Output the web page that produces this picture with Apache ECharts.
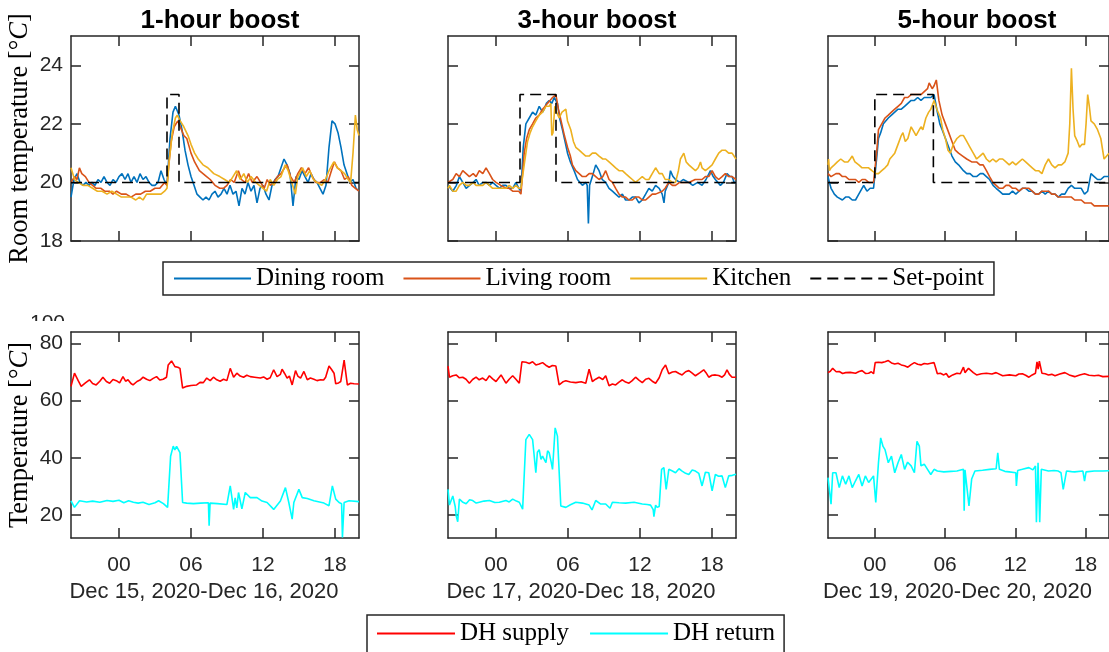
<!DOCTYPE html>
<html>
<head>
<meta charset="utf-8">
<title>Temperature boost</title>
<script src="https://cdn.jsdelivr.net/npm/echarts@6/dist/echarts.min.js"></script>
<style>html,body{margin:0;padding:0;background:#fff}#chart{width:1109px;height:652px}</style>
</head>
<body>
<div id="chart"></div>
<script>
// hours relative to midnight, -4 .. 20
var boostTitles = ['1-hour boost', '3-hour boost', '5-hour boost'];
var dateLabels = ['Dec 15, 2020-Dec 16, 2020', 'Dec 17, 2020-Dec 18, 2020', 'Dec 19, 2020-Dec 20, 2020'];
var hourTicks = [0, 6, 12, 18];
var roomTicks = [18, 20, 22, 24];
var dhTicks = [20, 40, 60, 80];

// set-points
var setpoint1h = [[-4, 20], [4, 20], [4, 23], [5, 23], [5, 20], [20, 20]];
var setpoint3h = [[-4, 20], [2, 20], [2, 23], [5, 23], [5, 20], [20, 20]];
var setpoint5h = [[-4, 20], [0, 20], [0, 23], [5, 23], [5, 20], [20, 20]];

// 1-hour boost
var dining1h = [[-4,19.5],[-3.75,20.1],[-3.5,20.3],[-3.25,20.0],[-3,19.9],[-2.75,20.0],[-2.5,19.9],[-2.25,20.0],[-2,19.9],[-1.75,20.1],[-1.5,20.0],[-1.25,20.2],[-1,20.0],[-0.75,19.9],[-0.5,20.1],[-0.25,20.0],[0,20.2],[0.25,20.3],[0.5,20.1],[0.75,20.3],[1,20.0],[1.25,20.2],[1.5,20.0],[1.75,20.3],[2,20.1],[2.25,20.2],[2.5,20.0],[2.75,19.9],[3,19.9],[3.25,20.0],[3.5,20.4],[3.75,20.1],[4,19.9],[4.25,21.5],[4.5,22.4],[4.7,22.6],[5,22.3],[5.25,21.8],[5.5,21.1],[5.75,20.6],[6,20.2],[6.25,19.9],[6.5,19.6],[6.75,19.5],[7,19.4],[7.25,19.5],[7.5,19.4],[7.75,19.6],[8,19.7],[8.25,19.5],[8.5,19.6],[8.75,19.8],[9,19.6],[9.25,19.9],[9.5,19.6],[9.75,19.7],[10,19.2],[10.25,19.8],[10.5,19.6],[10.75,20.0],[11,19.7],[11.25,19.9],[11.5,19.3],[11.75,19.8],[12,19.9],[12.25,19.6],[12.5,19.4],[12.75,19.9],[13,20.1],[13.25,20.2],[13.5,20.5],[13.75,20.8],[14,20.6],[14.25,20.3],[14.5,19.2],[14.75,20.2],[15,20.1],[15.25,20.4],[15.5,20.2],[15.75,20.0],[16,20.3],[16.25,20.1],[16.5,20.0],[16.75,19.8],[17,19.6],[17.25,19.9],[17.5,21.2],[17.75,22.1],[18,22.0],[18.25,21.7],[18.5,21.2],[18.75,20.6],[19,20.3],[19.25,20.0],[19.5,20.1],[19.75,19.8],[20,19.7]];
var living1h = [[-4,20.0],[-3.7,20.2],[-3.5,20.1],[-3.3,20.5],[-3.1,20.3],[-2.8,20.2],[-2.5,20.0],[-2.2,19.9],[-1.9,19.8],[-1.5,19.8],[-1.2,19.7],[-0.8,19.7],[-0.5,19.6],[-0.2,19.7],[0.2,19.6],[0.6,19.6],[1.0,19.5],[1.4,19.6],[1.8,19.6],[2.2,19.7],[2.6,19.7],[3.0,19.8],[3.4,19.8],[3.8,20.0],[4.0,19.9],[4.15,20.6],[4.35,21.4],[4.6,21.9],[4.9,22.1],[5.1,21.9],[5.4,21.6],[5.65,21.5],[6.0,21.0],[6.3,20.7],[6.7,20.4],[7.0,20.3],[7.3,20.2],[7.6,20.1],[8.0,19.9],[8.4,19.8],[8.7,19.8],[9.0,19.9],[9.3,20.1],[9.6,20.0],[9.95,20.4],[10.2,20.1],[10.5,20.0],[10.8,20.3],[11.1,20.0],[11.5,20.2],[11.8,20.0],[12.1,19.8],[12.35,20.1],[12.6,19.9],[12.9,20.0],[13.2,20.2],[13.5,20.3],[13.8,20.5],[14.0,20.6],[14.3,20.2],[14.6,20.0],[14.9,20.3],[15.2,20.5],[15.5,20.3],[15.8,20.5],[16.1,20.2],[16.4,20.0],[16.8,20.0],[17.1,20.1],[17.4,20.0],[17.7,20.4],[17.95,20.7],[18.2,20.5],[18.5,20.4],[18.8,20.1],[19.1,20.2],[19.4,19.9],[19.7,19.8],[20,19.7]];
var kitchen1h = [[-4,20.5],[-3.85,20.3],[-3.7,20.1],[-3.4,20.0],[-3.0,19.9],[-2.6,19.9],[-2.2,19.8],[-1.8,19.7],[-1.4,19.7],[-1.0,19.6],[-0.6,19.7],[-0.2,19.6],[0.2,19.5],[0.6,19.5],[1.0,19.5],[1.4,19.4],[1.7,19.5],[2.0,19.4],[2.3,19.6],[2.7,19.6],[3.1,19.6],[3.5,19.6],[3.8,19.7],[4.0,19.8],[4.2,20.8],[4.45,21.7],[4.7,22.2],[4.85,22.3],[5.1,22.1],[5.4,21.9],[5.75,21.6],[6.0,21.3],[6.3,21.0],[6.6,20.8],[7.0,20.6],[7.4,20.5],[7.9,20.3],[8.4,20.2],[8.8,20.1],[9.2,20.0],[9.5,20.2],[9.8,20.4],[10.1,20.1],[10.4,20.3],[10.7,20.0],[11.0,20.2],[11.4,20.0],[11.7,19.9],[12.0,19.8],[12.3,19.7],[12.6,20.1],[12.9,19.9],[13.2,20.1],[13.5,20.2],[13.85,20.6],[14.1,20.4],[14.4,20.0],[14.7,19.6],[14.9,20.2],[15.3,20.5],[15.6,20.2],[15.9,20.4],[16.2,20.1],[16.5,20.0],[16.9,19.9],[17.2,20.1],[17.5,20.4],[17.9,20.7],[18.2,20.5],[18.5,20.4],[18.8,20.3],[19.1,20.1],[19.3,20.0],[19.5,21.0],[19.7,22.3],[19.85,21.8],[20,21.6]];

// 3-hour boost
var dining3h = [[-4,19.9],[-3.88,19.9],[-3.6,19.7],[-3.3,19.9],[-3.05,20.2],[-2.77,20.0],[-2.49,19.8],[-2.2,19.9],[-1.9,20.0],[-1.66,20.1],[-1.4,19.9],[-1.1,20.0],[-0.83,20.0],[-0.55,19.9],[-0.28,20.0],[0,19.9],[0.3,19.8],[0.55,19.9],[0.83,19.9],[1.1,19.8],[1.39,19.8],[1.66,20.0],[1.9,19.8],[2.08,19.7],[2.27,21.2],[2.49,22.0],[2.77,22.2],[3.05,22.4],[3.32,22.3],[3.6,22.6],[3.88,22.4],[4.02,22.5],[4.2,22.7],[4.43,22.8],[4.65,22.7],[4.85,22.9],[5.0,22.9],[5.12,22.7],[5.3,22.2],[5.54,21.8],[5.75,21.4],[5.96,21.0],[6.2,20.7],[6.51,20.4],[6.79,20.1],[7.0,20.0],[7.2,19.9],[7.48,20.0],[7.6,19.9],[7.7,18.6],[7.8,19.9],[7.89,19.9],[8.1,20.3],[8.31,20.6],[8.59,20.4],[8.85,20.1],[9.14,20.0],[9.42,19.8],[9.7,19.7],[9.97,19.6],[10.25,19.5],[10.53,19.6],[10.8,19.4],[11.08,19.4],[11.36,19.5],[11.63,19.5],[11.91,19.3],[12.19,19.4],[12.47,19.6],[12.74,19.8],[13.02,19.7],[13.3,19.9],[13.6,19.8],[13.85,19.6],[14.0,19.3],[14.1,19.7],[14.4,20.0],[14.54,20.4],[14.75,20.2],[14.96,20.1],[15.3,20.0],[15.6,20.1],[16.07,20.0],[16.4,19.9],[16.8,20.0],[17.17,19.9],[17.5,20.1],[17.87,20.4],[18.1,20.2],[18.28,20.1],[18.7,19.9],[18.95,20.0],[19.25,20.3],[19.5,20.2],[19.67,20.2],[19.85,20.0],[20,20.0]];
var living3h = [[-4,20.0],[-3.6,20.1],[-3.32,20.3],[-3.05,20.2],[-2.77,20.4],[-2.49,20.3],[-2.22,20.2],[-1.9,20.3],[-1.66,20.2],[-1.39,20.4],[-1.1,20.3],[-0.83,20.5],[-0.55,20.3],[-0.28,20.1],[0,20.0],[0.4,19.9],[0.83,19.8],[1.1,19.8],[1.39,19.7],[1.66,19.7],[1.9,19.7],[2.08,19.6],[2.25,20.5],[2.35,21.0],[2.55,21.5],[2.77,21.8],[3.05,22.0],[3.32,22.2],[3.6,22.3],[3.88,22.5],[4.1,22.6],[4.29,22.7],[4.5,22.8],[4.71,22.9],[4.99,23.0],[5.2,22.5],[5.48,22.0],[5.7,21.6],[5.96,21.2],[6.2,20.9],[6.37,20.6],[6.65,20.4],[6.93,20.3],[7.2,20.2],[7.48,20.2],[7.76,20.3],[8.03,20.3],[8.31,20.2],[8.59,20.1],[8.9,20.2],[9.14,20.4],[9.42,20.1],[9.7,20.0],[9.97,19.8],[10.25,19.6],[10.53,19.5],[10.8,19.5],[11.08,19.4],[11.36,19.4],[11.63,19.5],[11.91,19.5],[12.19,19.4],[12.47,19.4],[12.74,19.5],[13.02,19.6],[13.3,19.6],[13.85,19.7],[14.1,19.8],[14.4,20.0],[14.7,19.9],[14.96,19.9],[15.3,20.0],[15.6,20.0],[16.07,20.0],[16.6,20.1],[17.17,20.1],[17.45,20.2],[17.73,20.2],[18.01,20.4],[18.28,20.2],[18.56,20.1],[18.84,20.2],[19.11,20.3],[19.39,20.2],[19.67,20.2],[20,20.1]];
var kitchen3h = [[-4,19.8],[-3.88,19.9],[-3.6,19.7],[-3.32,19.7],[-3.05,19.9],[-2.77,20.0],[-2.49,19.9],[-2.22,19.9],[-1.9,20.0],[-1.66,19.9],[-1.39,19.9],[-1.1,19.9],[-0.83,20.0],[-0.55,19.9],[-0.28,19.8],[0.2,19.8],[0.83,19.8],[1.1,19.9],[1.39,19.8],[1.66,19.9],[1.9,19.8],[2.08,19.8],[2.35,20.6],[2.63,21.4],[2.85,21.7],[3.05,21.9],[3.32,22.1],[3.6,22.3],[3.88,22.4],[4.16,22.6],[4.43,22.6],[4.57,22.7],[4.65,21.6],[4.75,21.7],[4.9,22.6],[5.05,22.4],[5.26,22.2],[5.5,22.4],[5.82,22.5],[5.96,22.1],[6.23,21.8],[6.45,21.4],[6.65,21.2],[6.93,21.1],[7.2,21.0],[7.48,20.9],[7.76,20.9],[8.03,21.0],[8.31,21.0],[8.59,20.9],[8.9,20.8],[9.14,20.8],[9.42,20.7],[9.7,20.6],[9.97,20.5],[10.25,20.4],[10.53,20.4],[10.8,20.3],[11.08,20.2],[11.36,20.1],[11.63,20.0],[11.91,20.1],[12.19,20.2],[12.47,20.1],[12.74,20.1],[13.02,20.3],[13.3,20.5],[13.6,20.3],[13.85,20.3],[14.1,20.1],[14.4,20.1],[14.7,20.0],[14.96,20.0],[15.2,20.4],[15.37,20.8],[15.65,21.0],[15.85,20.7],[16.07,20.6],[16.35,20.5],[16.62,20.4],[16.85,20.5],[17.04,20.7],[17.17,20.5],[17.45,20.4],[17.73,20.5],[18.01,20.6],[18.28,20.8],[18.56,21.0],[18.84,21.1],[19.11,21.1],[19.39,21.0],[19.67,21.0],[20,20.8]];

// 5-hour boost
var dining5h = [[-4,20.2],[-3.88,20.0],[-3.74,19.8],[-3.6,19.7],[-3.46,19.6],[-3.2,19.5],[-3.04,19.5],[-2.77,19.4],[-2.5,19.5],[-2.21,19.5],[-1.93,19.4],[-1.65,19.4],[-1.37,19.6],[-1.2,19.6],[-0.95,19.9],[-0.81,19.8],[-0.67,19.7],[-0.4,19.8],[-0.11,19.8],[0.03,19.8],[0.15,20.8],[0.31,21.5],[0.5,21.7],[0.73,22.0],[0.9,22.0],[1.15,22.2],[1.42,22.3],[1.7,22.4],[1.98,22.5],[2.26,22.5],[2.54,22.6],[2.82,22.7],[3.1,22.8],[3.38,22.8],[3.66,22.9],[3.94,22.8],[4.22,22.9],[4.5,22.9],[4.78,22.9],[5.06,23.0],[5.34,22.4],[5.55,22.0],[5.75,21.8],[6.03,21.5],[6.31,21.2],[6.59,20.9],[6.87,20.7],[7.15,20.6],[7.57,20.4],[7.85,20.3],[8.13,20.3],[8.41,20.2],[8.69,20.2],[9.0,20.3],[9.25,20.3],[9.53,20.2],[9.8,20.1],[10.1,19.9],[10.36,19.8],[10.64,19.7],[10.92,19.6],[11.2,19.6],[11.48,19.6],[11.76,19.7],[12.04,19.6],[12.32,19.7],[12.6,19.8],[12.88,19.8],[13.16,19.7],[13.44,19.7],[13.72,19.6],[13.99,19.6],[14.27,19.7],[14.55,19.6],[14.83,19.7],[15.11,19.6],[15.39,19.6],[15.67,19.5],[15.95,19.6],[16.23,19.6],[16.51,19.8],[16.79,19.9],[17.07,19.8],[17.35,19.8],[17.63,19.8],[17.91,19.6],[18.18,19.7],[18.46,20.3],[18.74,20.2],[19.02,20.1],[19.3,20.1],[19.58,20.2],[20,20.2]];
var living5h = [[-4,20.3],[-3.74,20.2],[-3.6,20.2],[-3.32,20.3],[-3.04,20.3],[-2.77,20.2],[-2.49,20.2],[-2.21,20.1],[-1.93,20.1],[-1.65,20.1],[-1.37,20.0],[-1.09,20.1],[-0.81,20.1],[-0.53,20.0],[-0.11,20.0],[0.03,20.0],[0.15,21.0],[0.31,21.8],[0.59,22.0],[0.87,22.2],[1.15,22.3],[1.42,22.4],[1.7,22.5],[1.98,22.6],[2.26,22.7],[2.54,22.9],[2.82,22.9],[3.1,23.0],[3.38,23.0],[3.66,23.0],[3.94,23.0],[4.22,23.1],[4.5,23.2],[4.64,23.4],[4.9,23.2],[5.06,23.3],[5.25,23.5],[5.47,22.8],[5.75,22.3],[6.03,22.0],[6.31,21.7],[6.59,21.4],[6.87,21.1],[7.15,21.0],[7.5,20.9],[7.85,20.8],[8.27,20.7],[8.69,20.7],[8.97,20.6],[9.25,20.6],[9.53,20.4],[9.8,20.2],[10.08,20.0],[10.36,19.9],[10.64,19.8],[10.92,19.8],[11.2,19.9],[11.48,19.9],[11.76,19.8],[12.04,19.8],[12.32,19.7],[12.6,19.8],[12.88,19.8],[13.16,19.8],[13.44,19.7],[13.72,19.6],[13.99,19.6],[14.27,19.7],[14.55,19.7],[14.83,19.7],[15.11,19.6],[15.39,19.6],[15.67,19.5],[15.95,19.5],[16.23,19.5],[16.51,19.5],[16.79,19.5],[17.07,19.4],[17.35,19.4],[17.63,19.4],[17.91,19.3],[18.18,19.3],[18.46,19.3],[18.74,19.2],[19.02,19.2],[19.3,19.2],[19.58,19.2],[20,19.2]];
var kitchen5h = [[-4,20.6],[-3.95,20.8],[-3.88,20.4],[-3.74,20.5],[-3.46,20.6],[-3.2,20.7],[-2.91,20.8],[-2.6,20.7],[-2.3,20.7],[-2.1,20.8],[-1.93,20.9],[-1.7,20.7],[-1.37,20.6],[-1.09,20.5],[-0.81,20.5],[-0.53,20.5],[-0.25,20.4],[-0.11,20.4],[0.1,20.3],[0.31,20.3],[0.59,20.4],[0.87,20.5],[1.1,20.6],[1.28,20.8],[1.5,20.9],[1.7,21.0],[1.98,21.3],[2.26,21.6],[2.4,21.7],[2.6,21.4],[2.82,21.5],[3.1,21.9],[3.38,21.7],[3.52,21.6],[3.8,21.8],[3.94,21.9],[4.1,21.8],[4.36,22.2],[4.6,22.4],[4.78,22.5],[5.06,22.8],[5.3,22.5],[5.61,22.2],[5.8,21.8],[6.03,21.5],[6.25,21.1],[6.45,21.0],[6.7,21.3],[7.01,21.5],[7.3,21.6],[7.57,21.6],[7.85,21.4],[8.13,21.2],[8.41,21.0],[8.69,20.8],[8.97,20.9],[9.25,21.0],[9.53,20.8],[9.8,20.7],[10.08,20.8],[10.36,20.7],[10.64,20.8],[10.92,20.8],[11.2,20.7],[11.48,20.6],[11.76,20.7],[12.04,20.6],[12.32,20.7],[12.6,20.8],[12.88,20.7],[13.16,20.6],[13.44,20.5],[13.72,20.4],[13.99,20.4],[14.27,20.3],[14.55,20.6],[14.83,20.8],[15.11,20.6],[15.39,20.5],[15.67,20.6],[15.95,20.6],[16.23,20.7],[16.51,21.0],[16.65,22.0],[16.79,23.9],[16.93,22.5],[17.07,21.6],[17.3,21.4],[17.49,21.2],[17.7,21.3],[17.91,21.3],[18.04,22.0],[18.18,23.0],[18.32,22.6],[18.46,22.1],[18.74,22.0],[19.02,21.8],[19.3,21.5],[19.58,20.8],[20,21.0]];

// district heating supply / return
var supply1h = [[-4,65.0],[-3.71,69.6],[-3.4,67.0],[-3.15,65.0],[-2.8,66.2],[-2.46,67.3],[-2.2,66.0],[-1.9,65.5],[-1.6,66.8],[-1.34,68.2],[-1.05,66.7],[-0.78,66.1],[-0.5,67.4],[-0.22,67.0],[0.05,66.2],[0.33,68.4],[0.55,66.8],[0.75,67.3],[1.0,66.0],[1.17,65.5],[1.5,66.7],[1.75,67.2],[2.01,68.2],[2.3,67.5],[2.57,67.0],[2.85,67.8],[3.13,68.4],[3.4,67.2],[3.68,67.5],[3.96,68.2],[4.10,72.5],[4.38,73.9],[4.66,71.9],[4.9,71.7],[5.08,71.3],[5.30,64.4],[5.64,65.0],[6.0,65.3],[6.47,65.5],[6.75,66.4],[7.03,66.3],[7.31,67.9],[7.6,67.0],[7.87,68.2],[8.15,67.3],[8.43,66.8],[8.71,67.5],[8.99,67.0],[9.27,71.3],[9.55,68.2],[9.82,69.6],[10.1,68.6],[10.38,68.2],[10.65,68.9],[10.94,68.4],[11.3,68.2],[11.78,67.9],[12.05,68.3],[12.34,67.5],[12.6,68.0],[12.89,70.8],[13.17,68.4],[13.45,69.2],[13.59,71.0],[13.8,69.5],[14.01,67.9],[14.2,68.6],[14.43,65.5],[14.71,70.5],[14.9,68.6],[15.13,67.9],[15.41,70.2],[15.69,67.3],[15.95,67.9],[16.24,67.5],[16.5,67.0],[16.8,67.3],[17.05,67.2],[17.22,68.2],[17.50,72.1],[17.7,71.0],[17.92,69.6],[18.06,65.9],[18.3,66.2],[18.48,66.7],[18.76,74.2],[19.03,65.5],[19.3,66.1],[19.59,65.9],[20,65.8]];
var return1h = [[-4,25.0],[-3.71,22.7],[-3.29,25.0],[-2.7,24.6],[-2.2,24.9],[-1.6,24.5],[-1.0,25.1],[-0.5,24.8],[0,25.2],[0.4,24.3],[0.8,25.0],[1.2,24.5],[1.6,24.2],[2.0,24.5],[2.5,23.7],[3.0,24.3],[3.3,25.0],[3.7,24.0],[4.05,22.7],[4.30,40.6],[4.52,44.1],[4.65,42.8],[4.80,44.0],[5.08,41.8],[5.30,24.4],[5.64,24.2],[6.2,24.0],[6.8,24.2],[7.45,24.3],[7.51,16.3],[7.59,24.2],[8.2,24.0],[8.99,23.7],[9.27,30.2],[9.55,22.0],[9.68,26.0],[9.82,22.5],[9.96,27.9],[10.24,22.2],[10.52,27.9],[10.94,26.1],[11.50,26.1],[11.92,24.9],[12.34,24.4],[12.89,22.0],[13.45,24.9],[13.87,29.6],[14.15,24.4],[14.43,18.6],[14.57,24.4],[14.99,29.0],[15.27,26.1],[15.69,25.8],[16.24,25.0],[17.08,24.2],[17.50,23.3],[17.78,30.2],[18.06,25.6],[18.34,24.4],[18.55,24.0],[18.62,12.2],[18.76,24.4],[19.17,25.0],[20,24.7]];
var supply3h = [[-4,72.1],[-3.88,68.2],[-3.6,68.7],[-3.32,69.0],[-3.05,68.0],[-2.77,68.2],[-2.5,67.5],[-2.22,66.1],[-1.95,67.4],[-1.66,68.2],[-1.4,67.3],[-1.11,67.9],[-0.83,67.0],[-0.55,68.7],[-0.28,67.6],[0,66.7],[0.42,69.0],[0.83,66.1],[1.1,67.5],[1.39,68.7],[1.66,67.5],[1.94,66.1],[2.16,73.6],[2.5,73.4],[2.77,73.0],[3.05,73.6],[3.32,72.5],[3.6,72.8],[3.88,73.3],[4.15,72.4],[4.43,71.7],[4.7,72.3],[4.99,72.1],[5.26,65.5],[5.55,66.5],[5.82,67.0],[6.2,66.5],[6.65,66.3],[7.1,66.6],[7.48,66.1],[7.76,71.0],[8.03,66.7],[8.3,67.5],[8.59,68.2],[8.9,67.4],[9.14,68.7],[9.42,65.2],[9.7,65.8],[9.97,65.5],[10.25,66.5],[10.53,67.3],[10.8,66.5],[11.08,66.1],[11.35,67.0],[11.63,68.2],[11.91,67.2],[12.19,66.3],[12.47,67.5],[12.74,67.8],[13.02,66.8],[13.3,66.1],[13.6,68.0],[13.85,70.8],[14.13,72.5],[14.4,69.4],[14.7,70.0],[14.96,70.2],[15.25,69.5],[15.51,69.0],[15.8,70.1],[16.07,70.5],[16.35,69.6],[16.62,68.7],[17.0,69.8],[17.31,70.8],[17.5,69.8],[17.73,68.2],[18.0,68.9],[18.28,69.0],[18.56,68.8],[18.84,68.2],[19.05,69.0],[19.25,70.8],[19.45,69.2],[19.67,68.2],[20,68.2]];
var return3h = [[-4,29.0],[-3.88,23.5],[-3.6,26.7],[-3.4,23.0],[-3.32,19.8],[-3.19,17.7],[-3.05,25.6],[-2.8,24.6],[-2.49,24.0],[-2.2,25.4],[-1.94,25.1],[-1.65,24.2],[-1.39,24.5],[-1.0,24.9],[-0.55,25.1],[-0.1,24.4],[0.28,24.5],[0.83,25.1],[1.1,24.6],[1.39,25.6],[1.7,24.9],[1.94,24.5],[2.22,22.1],[2.49,46.4],[2.77,48.2],[3.05,46.4],[3.32,34.8],[3.45,42.0],[3.6,42.9],[3.75,39.5],[3.88,40.6],[4.16,38.3],[4.3,42.5],[4.43,41.8],[4.6,38.5],[4.71,36.0],[4.93,50.5],[5.12,47.6],[5.40,23.2],[5.82,22.7],[6.2,23.6],[6.65,24.5],[7.2,24.2],[7.76,23.5],[8.0,21.8],[8.31,25.1],[8.7,23.9],[9.14,23.9],[9.5,22.4],[9.70,24.5],[10.25,24.3],[10.80,24.2],[11.5,24.5],[12.19,23.9],[12.6,23.7],[12.88,23.5],[13.1,21.9],[13.16,19.5],[13.30,23.5],[13.43,22.7],[13.60,23.0],[13.80,36.0],[13.99,36.6],[14.18,29.0],[14.40,36.0],[14.7,35.4],[14.96,34.8],[15.25,36.2],[15.51,35.4],[15.8,34.6],[16.07,34.2],[16.35,35.8],[16.62,35.4],[16.9,34.6],[17.17,30.2],[17.45,35.0],[17.73,34.8],[18.01,28.5],[18.28,34.2],[18.55,33.6],[18.84,33.7],[19.11,29.6],[19.39,33.7],[19.7,33.9],[20,34.3]];
var supply5h = [[-4,69.8],[-3.8,70.3],[-3.60,71.3],[-3.3,70.1],[-3.04,70.2],[-2.75,69.5],[-2.49,69.8],[-2.1,69.9],[-1.65,69.6],[-1.35,70.2],[-1.09,70.5],[-0.8,69.5],[-0.53,69.6],[-0.3,70.1],[-0.11,69.4],[0.03,73.3],[0.3,73.4],[0.59,73.3],[0.87,73.6],[1.15,74.0],[1.42,73.2],[1.70,72.8],[1.98,73.1],[2.26,72.5],[2.54,72.2],[2.82,71.7],[3.1,72.6],[3.38,73.3],[3.66,72.7],[3.94,72.5],[4.22,73.0],[4.50,72.8],[4.78,73.1],[5.06,73.3],[5.34,69.4],[5.6,69.6],[5.89,69.0],[6.1,69.5],[6.31,68.2],[6.65,69.0],[7.01,69.6],[7.3,69.4],[7.57,71.7],[7.7,69.8],[7.85,69.6],[8.0,71.3],[8.13,71.3],[8.41,69.8],[8.69,69.0],[9.1,69.4],[9.53,69.6],[10.0,69.3],[10.36,69.8],[10.92,68.7],[11.5,69.0],[12.04,68.7],[12.3,69.3],[12.60,69.4],[12.88,68.9],[13.16,68.2],[13.44,69.0],[13.72,69.6],[13.85,73.6],[13.95,71.0],[14.05,73.8],[14.13,73.6],[14.27,69.6],[14.55,69.4],[14.83,69.0],[15.11,69.2],[15.39,68.7],[15.8,69.3],[16.23,69.8],[16.6,69.0],[17.07,68.4],[17.5,69.0],[17.91,69.4],[18.3,68.9],[18.74,68.7],[19.1,68.9],[19.47,68.4],[20,68.5]];
var return5h = [[-4,33.1],[-3.74,23.8],[-3.60,34.8],[-3.32,34.8],[-3.04,29.6],[-2.77,33.7],[-2.49,30.8],[-2.21,33.7],[-1.93,29.6],[-1.65,32.0],[-1.37,34.2],[-1.09,30.2],[-0.81,33.7],[-0.53,31.4],[-0.11,33.7],[0.08,24.4],[0.31,38.3],[0.50,47.0],[0.7,44.0],[0.87,42.9],[1.15,38.3],[1.42,40.6],[1.70,34.8],[1.98,38.3],[2.26,41.2],[2.54,36.0],[2.8,38.5],[3.10,37.2],[3.38,34.8],[3.60,45.8],[3.80,44.1],[3.94,37.2],[4.22,37.8],[4.5,36.0],[4.78,34.2],[5.06,36.0],[5.34,35.4],[5.89,35.1],[6.5,35.3],[7.01,35.4],[7.57,36.0],[7.63,21.5],[7.70,35.8],[7.85,35.4],[8.04,23.2],[8.27,32.6],[8.55,35.4],[9.2,35.7],[9.80,36.0],[10.36,36.2],[10.50,41.8],[10.64,36.0],[11.1,35.3],[11.48,35.1],[12.04,34.8],[12.09,30.2],[12.2,35.6],[12.60,36.0],[13.16,36.6],[13.5,35.8],[13.72,37.2],[13.80,17.5],[13.94,38.3],[14.08,17.5],[14.22,36.0],[14.83,35.4],[15.3,35.6],[15.67,35.4],[15.9,34.8],[16.09,29.0],[16.37,35.4],[16.8,35.2],[17.07,35.1],[17.77,35.4],[17.91,31.9],[18.04,35.1],[18.74,35.4],[19.47,35.4],[20,35.5]];

var roomPanels = [
    {dining: dining1h, living: living1h, kitchen: kitchen1h, setpoint: setpoint1h},
    {dining: dining3h, living: living3h, kitchen: kitchen3h, setpoint: setpoint3h},
    {dining: dining5h, living: living5h, kitchen: kitchen5h, setpoint: setpoint5h}
];
var dhPanels = [
    {supply: supply1h, ret: return1h},
    {supply: supply3h, ret: return3h},
    {supply: supply5h, ret: return5h}
];

var SANS = 'Liberation Sans';
var SERIF = 'Liberation Serif';
var FRAME = '#262626';
var panelLeft = [71, 448, 828];
var panelWidth = 288;

var grids = [];
var xAxes = [];
var yAxes = [];
var series = [];
var titles = [];

function frameLine() {
    return {show: true, onZero: false, lineStyle: {color: FRAME, width: 1.5}};
}

for (var row = 0; row < 2; row++) {
    for (var p = 0; p < 3; p++) {
        var g = row * 3 + p;
        grids.push({left: panelLeft[p], width: panelWidth, top: row === 0 ? 36 : 332, height: row === 0 ? 205 : 206});
        var yTicks = row === 0 ? roomTicks : dhTicks;
        var xTick = {show: true, inside: true, length: 10, customValues: hourTicks, lineStyle: {color: FRAME, width: 1.5}};
        var yTick = {show: true, inside: true, length: 10, customValues: yTicks, lineStyle: {color: FRAME, width: 1.5}};
        xAxes.push({
            type: 'value', gridIndex: g, min: -4, max: 20, position: 'bottom',
            axisLine: frameLine(), axisTick: xTick, splitLine: {show: false},
            axisLabel: {
                show: row === 1, customValues: hourTicks, margin: 17,
                color: FRAME, fontSize: 21, fontFamily: SANS,
                formatter: function (v) { return (v < 10 ? '0' : '') + v; }
            },
            name: row === 1 ? dateLabels[p] : '', nameLocation: 'middle', nameGap: 43,
            nameTextStyle: {color: FRAME, fontSize: 22, fontFamily: SANS, padding: [0, 22, 0, 0]}
        });
        xAxes.push({
            type: 'value', gridIndex: g, min: -4, max: 20, position: 'top',
            axisLine: frameLine(), axisTick: xTick, axisLabel: {show: false}, splitLine: {show: false}
        });
        var yName = '';
        if (p === 0) yName = row === 0 ? 'Room temperature [°{it|C}]' : 'Temperature [°{it|C}]';
        yAxes.push({
            type: 'value', gridIndex: g, position: 'left',
            min: row === 0 ? 18 : 12, max: row === 0 ? 25 : 84,
            axisLine: frameLine(), axisTick: yTick, splitLine: {show: false},
            axisLabel: {show: p === 0, customValues: yTicks, margin: 8, color: FRAME, fontSize: 21, fontFamily: SANS},
            name: yName, nameLocation: 'middle', nameGap: 37,
            nameTextStyle: {color: '#000', fontSize: 26.5, fontFamily: SERIF, rich: {it: {fontStyle: 'italic', fontSize: 26.5, fontFamily: SERIF, color: '#000'}}}
        });
        yAxes.push({
            type: 'value', gridIndex: g, position: 'right',
            min: row === 0 ? 18 : 12, max: row === 0 ? 25 : 84,
            axisLine: frameLine(), axisTick: yTick, axisLabel: {show: false}, splitLine: {show: false}
        });

        function line(name, data, color, extra) {
            series.push({
                name: name, type: 'line', xAxisIndex: g * 2, yAxisIndex: g * 2,
                data: data, symbol: 'none', silent: true,
                lineStyle: Object.assign({color: color, width: 1.6}, extra || {}),
                itemStyle: {color: color}
            });
        }
        if (row === 0) {
            var rp = roomPanels[p];
            line('Dining room', rp.dining, '#0072BD');
            line('Living room', rp.living, '#D95319');
            line('Kitchen', rp.kitchen, '#EDB120');
            line('Set-point', rp.setpoint, '#000000', {type: [11, 6]});
            titles.push({
                text: boostTitles[p], left: panelLeft[p] + panelWidth / 2, top: 3, textAlign: 'center',
                textStyle: {fontFamily: SANS, fontWeight: 'bold', fontSize: 26, color: '#000'}
            });
        } else {
            var dp = dhPanels[p];
            line('DH supply', dp.supply, '#FF0000');
            line('DH return', dp.ret, '#00FFFF');
        }
    }
}

var legendText = {fontFamily: SERIF, fontSize: 25, color: '#000'};
// hide the symbol dot in the legend, keep the line sample
var noDot = {opacity: 0, borderWidth: 0};
var option = {
    animation: false,
    backgroundColor: '#fff',
    title: titles,
    grid: grids,
    xAxis: xAxes,
    yAxis: yAxes,
    legend: [
        {
            data: ['Dining room', 'Living room', 'Kitchen', 'Set-point'],
            left: 163, top: 262, padding: [4, 10, 4, 10], itemGap: 18,
            itemWidth: 77, itemHeight: 14, borderColor: FRAME, borderWidth: 1.5,
            itemStyle: noDot,
            backgroundColor: '#fff', textStyle: legendText, selectedMode: false
        },
        {
            data: ['DH supply', 'DH return'],
            left: 367, top: 615, padding: [6, 9, 8, 9], itemGap: 20,
            itemWidth: 78, itemHeight: 14, borderColor: FRAME, borderWidth: 1.5,
            itemStyle: noDot,
            backgroundColor: '#fff', textStyle: legendText, selectedMode: false
        }
    ],
    graphic: [
        {type: 'text', x: 65, y: 313, z: 10, style: {text: '100', align: 'right', verticalAlign: 'top', fontSize: 21, fontFamily: SANS, fill: FRAME}},
        {type: 'rect', z: 20, shape: {x: 28, y: 321, width: 42, height: 12}, style: {fill: '#fff'}}
    ],
    series: series
};

var chart = echarts.init(document.getElementById('chart'), null, {renderer: 'canvas'});
chart.setOption(option);
</script>
</body>
</html>
